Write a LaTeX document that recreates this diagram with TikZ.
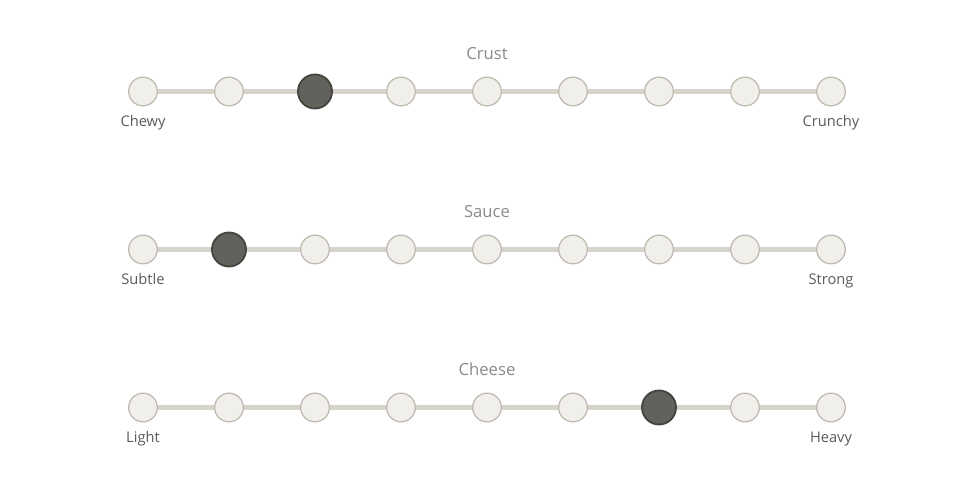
\documentclass[tikz,border=0pt]{standalone}
\usepackage{fontspec}
\setmainfont{Open Sans}
\usepackage{xcolor}
\usepackage{tikz}

\definecolor{trackgray}{HTML}{D6D3CA}
\definecolor{dotfill}{HTML}{F1EFE9}
\definecolor{dotedge}{HTML}{BDB8AF}
\definecolor{knobfill}{HTML}{62615C}
\definecolor{knobedge}{HTML}{45443F}
\definecolor{titlegray}{HTML}{8A8A8A}
\definecolor{endgray}{HTML}{5A5A5A}

\tikzset{
  dot/.style={circle, draw=dotedge, fill=dotfill, line width=0.9pt, minimum size=21.5pt, inner sep=0pt},
  knob/.style={circle, draw=knobedge, fill=knobfill, line width=1.4pt, minimum size=25.5pt, inner sep=0pt},
  track/.style={trackgray, line width=3.8pt},
  heading/.style={text=titlegray, font=\fontsize{12.5}{14}\selectfont, text height=1.6ex, text depth=0.5ex},
  endlabel/.style={text=endgray, font=\fontsize{11}{13}\selectfont, text height=1.6ex, text depth=0.5ex}
}

\begin{document}
\begin{tikzpicture}[x=0.75pt, y=-0.75pt]

    % Fix the canvas size
    \useasboundingbox (0,0) rectangle (975,488);

    % One slider per row: name / height / title / left end / right end / chosen step
    \foreach \row/\yy/\title/\lo/\hi/\sel in {crust/91.5/Crust/Chewy/Crunchy/3,
                                             sauce/249.5/Sauce/Subtle/Strong/2,
                                             cheese/407.5/Cheese/Light/Heavy/7}
    {
        % Steps along the track
        \foreach \i in {1,...,9}
        {
            \pgfmathsetmacro{\xx}{143+86*(\i-1)}
            \ifnum\i=\sel
                \node[knob] (\row-\i) at (\xx,\yy) {};
            \else
                \node[dot] (\row-\i) at (\xx,\yy) {};
            \fi
        }

        % Track pieces between the steps
        \foreach \i [evaluate=\i as \j using int(\i+1)] in {1,...,8}
        \draw[track] (\row-\i) -- (\row-\j);

        % Title and end labels
        \node[heading] (\row-title) at (487,\yy-35.5) {\title};
        \node[endlabel] (\row-lo) at (143,\yy+31) {\lo};
        \node[endlabel] (\row-hi) at (831,\yy+31) {\hi};
    }

\end{tikzpicture}
\end{document}
